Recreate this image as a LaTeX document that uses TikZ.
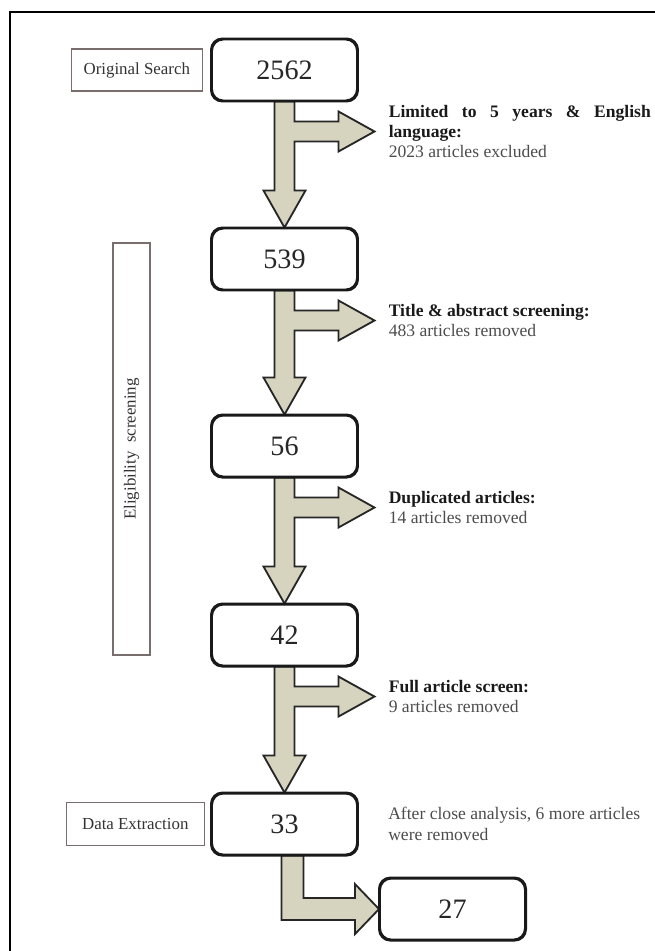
\documentclass[tikz,border=0pt]{standalone}
\usepackage{fontspec}
\setmainfont{Liberation Serif}
\usepackage{xcolor}
\usetikzlibrary{positioning, calc}
\definecolor{arrowfill}{RGB}{214,211,190}
\definecolor{labelgrey}{RGB}{120,110,110}

\begin{document}
\begin{tikzpicture}[
    x=0.025cm, y=-0.025cm,
    countbox/.style={rectangle, rounded corners=8pt, draw=black!90, line width=1.4pt, minimum width=3.625cm, minimum height=1.525cm, font=\fontsize{20}{24}\selectfont, text=black!85},
    stagebox/.style={rectangle, draw=labelgrey, line width=1pt, font=\fontsize{12}{14}\selectfont, text=black!80, inner sep=0pt},
    note/.style={align=left, font=\fontsize{12.5}{14.5}\selectfont, text=black!70, inner sep=0pt},
    blockarrow/.style={fill=arrowfill, draw=black!85, line width=1.3pt, line join=miter}
]
\useasboundingbox (0,0) rectangle (655,951);

% Frame
\draw[line width=1.5pt] (10,970) -- (10,12) -- (680,12);

% Counts
\node[countbox] (n2562) at (284.5,70) {2562};
\node[countbox, below=3.15cm of n2562] (n539) {539};
\node[countbox, below=3.1cm of n539] (n56) {56};
\node[countbox, below=3.15cm of n56] (n42) {42};
\node[countbox, below=3.15cm of n42] (n33) {33};
\node[countbox, below right=0.55cm and 0.525cm of n33] (n27) {27};

% Stages
\node[stagebox, minimum width=3.275cm, minimum height=1.05cm, left=0.2cm of n2562] (search) {Original Search};
\node[stagebox, minimum width=3.45cm, minimum height=1.075cm, left=0.15cm of n33] (extract) {Data Extraction};
\node[stagebox, minimum width=10.3cm, minimum height=0.925cm, rotate=90] (elig) at (131.5,449) {Eligibility\ \ screening};

% Block arrows
\foreach \a/\b in {n2562/n539, n539/n56, n56/n42, n42/n33} {
  \filldraw[blockarrow] ($(\a.south)+(-10,0)$) -- ($(\b.north)+(-10,-37)$) -- ++(-11,0) -- (\b.north)
    -- ($(\b.north)+(21,-37)$) -- ++(-11,0) -- ($(\a.south)+(10,40)$) -- ++(44,0) -- ++(0,10)
    -- ++(36,-20) coordinate (tip-\a) -- ++(-36,-20) -- ++(0,10) -- ($(\a.south)+(10,20)$)
    -- ($(\a.south)+(10,0)$) -- cycle;
}
\filldraw[blockarrow] ($(n33.south)+(-3,0)$) |- ($(n27.west)+(-24,11)$) -- ++(0,14) -- (n27.west)
  -- ++(-24,-25) -- ++(0,14) -| ($(n33.south)+(19,0)$) -- cycle;

% Redraw boxes over arrow ends
\foreach \n in {n2562, n539, n56, n42, n33, n27}
  \draw[black!90, line width=1.4pt, rounded corners=8pt] (\n.south west) rectangle (\n.north east);

% Notes
\node[note, right=0.35cm of tip-n2562] (limits) {\makebox[6.55cm][s]{\textbf{\color{black!90}Limited to 5 years \& English}}\\\textbf{\color{black!90}language:}\\2023 articles excluded};
\node[note, right=0.35cm of tip-n539] (title) {\textbf{\color{black!90}Title \& abstract screening:}\\483 articles removed};
\node[note, right=0.35cm of tip-n56] (dupl) {\textbf{\color{black!90}Duplicated articles:}\\14 articles removed};
\node[note, right=0.35cm of tip-n42] (full) {\textbf{\color{black!90}Full article screen:}\\9 articles removed};
\node[note, right=0.75cm of n33] (close) {After close analysis, 6 more articles\\were removed};

\end{tikzpicture}
\end{document}
